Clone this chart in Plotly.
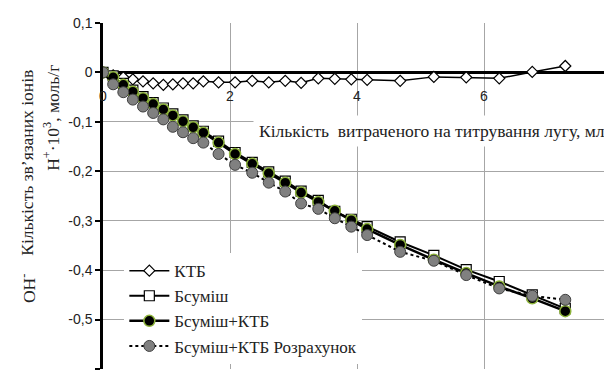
import plotly.graph_objects as go

# Titration volume, ml
volume = [0, 0.16, 0.32, 0.47, 0.63, 0.79, 0.95, 1.10, 1.26, 1.42, 1.58, 1.82, 2.08, 2.35,
          2.61, 2.87, 3.12, 3.39, 3.65, 3.91, 4.16, 4.68, 5.21, 5.72, 6.24, 6.76, 7.28]

ktb = [0, -0.006, -0.010, -0.014, -0.018, -0.022, -0.025, -0.024, -0.022, -0.022, -0.018, -0.020,
       -0.020, -0.017, -0.020, -0.017, -0.021, -0.012, -0.013, -0.014, -0.015, -0.017, -0.009,
       -0.010, -0.012, 0.001, 0.013]

bsumish = [0, -0.007, -0.022, -0.036, -0.049, -0.061, -0.072, -0.084, -0.096, -0.108, -0.119,
           -0.139, -0.162, -0.182, -0.201, -0.220, -0.240, -0.259, -0.281, -0.297, -0.312,
           -0.343, -0.370, -0.399, -0.423, -0.450, -0.478]

bsumish_ktb = [0, -0.010, -0.025, -0.039, -0.052, -0.064, -0.075, -0.087, -0.099, -0.111, -0.122,
               -0.142, -0.165, -0.185, -0.204, -0.223, -0.243, -0.262, -0.280, -0.299, -0.317,
               -0.349, -0.379, -0.406, -0.433, -0.457, -0.483]

calc = [0, -0.024, -0.040, -0.055, -0.069, -0.082, -0.095, -0.110, -0.121, -0.133, -0.142,
        -0.165, -0.187, -0.203, -0.223, -0.241, -0.265, -0.276, -0.295, -0.312, -0.329,
        -0.363, -0.381, -0.410, -0.437, -0.452, -0.460]

y_ticks = [0.1, 0, -0.1, -0.2, -0.3, -0.4, -0.5, -0.6]
y_tick_text = ["0,1", "0", "-0,1", "-0,2", "-0,3", "-0,4", "-0,5", "-0.6"]
x_ticks = [0, 2, 4, 6, 8]

names = ["КТБ", "Бсуміш", "Бсуміш+КТБ", "Бсуміш+КТБ Розрахунок"]

SERIF = "Liberation Serif, 'Times New Roman', serif"
SANS = "Liberation Sans, Arial, sans-serif"
TXT = "#222222"

fig = go.Figure()
fig.add_trace(go.Scatter(
    x=volume, y=ktb, name=names[0], mode="lines+markers",
    line=dict(color="black", width=1.5),
    marker=dict(symbol="diamond", size=8.5, color="white", line=dict(color="black", width=1.2))))
fig.add_trace(go.Scatter(
    x=volume, y=bsumish, name=names[1], mode="lines+markers",
    line=dict(color="black", width=2),
    marker=dict(symbol="square", size=10, color="white", line=dict(color="black", width=1.2))))
fig.add_trace(go.Scatter(
    x=volume, y=bsumish_ktb, name=names[2], mode="lines+markers",
    line=dict(color="black", width=2.5),
    marker=dict(symbol="circle", size=11, color="black", line=dict(color="#8DB33A", width=1.5))))
fig.add_trace(go.Scatter(
    x=volume, y=calc, name=names[3], mode="lines+markers",
    line=dict(color="black", width=2, dash="dot"),
    marker=dict(symbol="circle", size=11, color="#808080", line=dict(color="#404040", width=1))))

# x-axis title inside plot
fig.add_annotation(
    text="Кількість  витраченого на титрування лугу, мл",
    xref="paper", yref="y", x=1.0, y=-0.119, xanchor="right", yanchor="middle", xshift=0,
    showarrow=False, font=dict(family=SERIF, size=17.5, color=TXT),
    bgcolor="white", borderpad=5)

# y-axis title pieces
fig.add_annotation(text="Кількість зв’язаних іонів", xref="paper", yref="paper",
                   x=-0.172, y=0.595, textangle=-90, showarrow=False,
                   font=dict(family=SERIF, size=17.5, color=TXT))
fig.add_annotation(text="OH<sup>-</sup>", xref="paper", yref="paper",
                   x=-0.172, y=0.185, textangle=-90, showarrow=False,
                   font=dict(family=SERIF, size=17.5, color=TXT))
fig.add_annotation(text="H<sup>+</sup>·10<sup>3</sup>, моль/г", xref="paper", yref="paper",
                   x=-0.128, y=0.885, textangle=-90, showarrow=False,
                   font=dict(family=SERIF, size=17.5, color=TXT))

# page body adds an 8 px offset, so the figure is 8 px smaller and margins shifted
fig.update_layout(
    width=604, height=366,
    margin=dict(l=95, r=1, t=15, b=5),
    paper_bgcolor="white", plot_bgcolor="white",
    showlegend=True,
    legend=dict(x=0.042, y=0.335, xanchor="left", yanchor="top",
                bgcolor="white", font=dict(family=SERIF, size=17, color=TXT),
                tracegroupgap=0, itemwidth=40),
    xaxis=dict(range=[0, 8], tickvals=x_ticks, showgrid=True, gridcolor="#a6a6a6", gridwidth=1,
               zeroline=False, showline=False, anchor="free", position=6/7,
               ticks="", ticklabelstandoff=14,
               tickfont=dict(family=SANS, size=14, color=TXT)),
    yaxis=dict(range=[-0.6, 0.1], tickvals=y_ticks, ticktext=y_tick_text, showgrid=True,
               gridcolor="#a6a6a6", gridwidth=1, zeroline=True, zerolinecolor="black",
               zerolinewidth=2.5, showline=True, linecolor="black", linewidth=2.5,
               ticks="outside", ticklen=5, tickwidth=1.5, tickcolor="black",
               tickfont=dict(family=SANS, size=14, color=TXT)),
)

fig.write_html("out.html")
